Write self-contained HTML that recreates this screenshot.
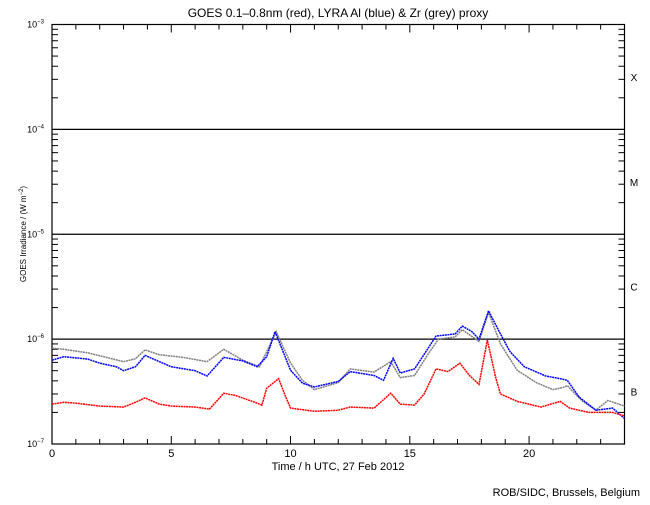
<!DOCTYPE html>
<html><head><meta charset="utf-8"><style>
body{margin:0;background:#fff}
svg text{font-family:"Liberation Sans",sans-serif;fill:#000}
</style></head><body>
<svg id="chart" width="650" height="500" xmlns="http://www.w3.org/2000/svg">
<rect width="650" height="500" fill="#fff"/>
<g id="axes"></g>
<g id="series"></g>
<text x="338" y="17" font-size="12" text-anchor="middle">GOES 0.1–0.8nm (red), LYRA Al (blue) &amp; Zr (grey) proxy</text>
<text x="338" y="470" font-size="11" text-anchor="middle">Time / h UTC, 27 Feb 2012</text>
<text transform="translate(26,234) rotate(-90)" font-size="8" text-anchor="middle">GOES Irradiance / (W m<tspan baseline-shift="super" font-size="6">−2</tspan>)</text>
<text x="640" y="496" font-size="11" text-anchor="end">ROB/SIDC, Brussels, Belgium</text>
</svg>
<script>
const xTicks=[0,5,10,15,20];
const yDecades=[-7,-6,-5,-4,-3];
const classLabels=["B","C","M","X"];
const redT=[0,0.5,1,2,3,3.5,3.9,4.5,5,6,6.6,7.2,7.7,8.5,8.8,9.0,9.5,9.8,10,11,12,12.5,13.5,14.2,14.6,15.2,15.6,16.1,16.6,17.1,17.5,17.9,18.25,18.6,18.8,19.5,20.5,21.3,21.7,22.5,23.5,24];
const redV=[2.4e-7,2.5e-7,2.45e-7,2.3e-7,2.25e-7,2.5e-7,2.75e-7,2.4e-7,2.3e-7,2.25e-7,2.15e-7,3.05e-7,2.9e-7,2.5e-7,2.35e-7,3.4e-7,4.2e-7,2.8e-7,2.2e-7,2.05e-7,2.1e-7,2.25e-7,2.2e-7,3.05e-7,2.4e-7,2.35e-7,3.0e-7,5.2e-7,4.9e-7,5.9e-7,4.5e-7,3.7e-7,9.8e-7,4.3e-7,3.0e-7,2.55e-7,2.25e-7,2.55e-7,2.2e-7,2.0e-7,2.0e-7,1.85e-7];
const blueT=[0,0.5,1.5,2,2.7,3,3.5,3.9,4.5,5,6,6.5,7.2,8,8.6,9,9.35,10,10.5,11,12,12.5,13.5,13.9,14.3,14.6,15.2,15.8,16.1,16.9,17.2,17.6,17.9,18.3,18.8,19.2,19.8,20.7,21.3,21.6,22.1,22.8,23.5,24];
const blueV=[6.3e-7,6.8e-7,6.45e-7,5.9e-7,5.45e-7,5.0e-7,5.45e-7,7.0e-7,6.1e-7,5.45e-7,5.0e-7,4.45e-7,6.7e-7,6.2e-7,5.45e-7,6.8e-7,1.18e-6,5.05e-7,3.8e-7,3.5e-7,3.95e-7,4.9e-7,4.5e-7,4.05e-7,6.55e-7,4.75e-7,5.2e-7,8.4e-7,1.07e-6,1.12e-6,1.33e-6,1.18e-6,1.0e-6,1.86e-6,1.12e-6,7.6e-7,5.45e-7,4.45e-7,4.2e-7,4.05e-7,2.8e-7,2.1e-7,2.2e-7,1.75e-7];
const greyT=[0,0.5,1.5,2.5,3,3.5,3.9,4.5,5.5,6.5,7.2,8,8.7,9.4,10,10.5,11,12,12.5,13.5,14.2,14.6,15.2,15.8,16.2,16.9,17.2,17.9,18.3,18.8,19.5,20.3,21,21.4,21.6,22.2,22.8,23.3,24];
const greyV=[8.2e-7,8.0e-7,7.4e-7,6.5e-7,6.1e-7,6.5e-7,7.9e-7,7.1e-7,6.7e-7,6.1e-7,8.0e-7,6.3e-7,5.45e-7,1.18e-6,5.9e-7,4.05e-7,3.3e-7,3.85e-7,5.2e-7,4.85e-7,6.1e-7,4.3e-7,4.5e-7,7.4e-7,1.0e-6,1.05e-6,1.23e-6,9.5e-7,1.8e-6,9.0e-7,5.05e-7,3.85e-7,3.3e-7,3.45e-7,3.6e-7,2.6e-7,2.1e-7,2.6e-7,2.3e-7];

const L=52,R=624.5,T=24.5,B=444;
const xS=h=>L+(R-L)*h/24;
const yS=v=>B-(Math.log10(v)+7)*(B-T)/4;
const NS="http://www.w3.org/2000/svg";
const ax=document.getElementById('axes'),sr=document.getElementById('series');
function mk(tag,at,par){const e=document.createElementNS(NS,tag);for(const k in at)e.setAttribute(k,at[k]);par.appendChild(e);return e;}
const frame=mk('rect',{x:L,y:T,width:R-L,height:B-T,fill:'none',stroke:'#000','stroke-width':1.2},ax);


for(let h=0;h<=24;h++){
  const x=xS(h),len=(h%5===0)?8:5;
  mk('line',{x1:x,x2:x,y1:B,y2:B-len,stroke:'#000'},ax);
  mk('line',{x1:x,x2:x,y1:T,y2:T+len,stroke:'#000'},ax);
}
xTicks.forEach(h=>{
  const t=mk('text',{x:xS(h),y:457,'font-size':11,'text-anchor':'middle'},ax);
  
  
  t.textContent=h;
});
yDecades.forEach((d,i)=>{
  const y=yS(Math.pow(10,d));
  const t=mk('text',{x:44,y:y+3,'font-size':9,'text-anchor':'end'},ax);
  
  
  t.textContent='10';
  const s=mk('tspan',{'font-size':6,dy:-4},t);s.textContent='−'+(-d);
  if(i<yDecades.length-1){
    for(let m=2;m<=9;m++){
      const yy=yS(m*Math.pow(10,d));
      mk('line',{x1:L,x2:L+6,y1:yy,y2:yy,stroke:'#000'},ax);
      mk('line',{x1:R,x2:R-6,y1:yy,y2:yy,stroke:'#000'},ax);
    }
    const c=mk('text',{x:634,y:yS(Math.pow(10,d+0.5))+4,'font-size':10,'text-anchor':'middle'},ax);
    
    
    c.textContent=classLabels[i];
  }
  if(d>-7&&d<-3){
    const g=mk('line',{x1:L,x2:R,y1:y,y2:y,stroke:'#000','stroke-width':1.2},ax);
    
    
  }
});
function series(ts,vs,col,name){
  const p=mk('polyline',{points:ts.map((t,i)=>xS(t)+','+yS(vs[i])).join(' '),fill:'none',stroke:col,'stroke-width':1.5,'stroke-dasharray':'2 0.6'},sr);
  
  
}
series(greyT,greyV,'#808080','zr-proxy-series');
series(blueT,blueV,'#0000ff','al-proxy-series');
series(redT,redV,'#ff0000','goes-series');
</script>
</body></html>
